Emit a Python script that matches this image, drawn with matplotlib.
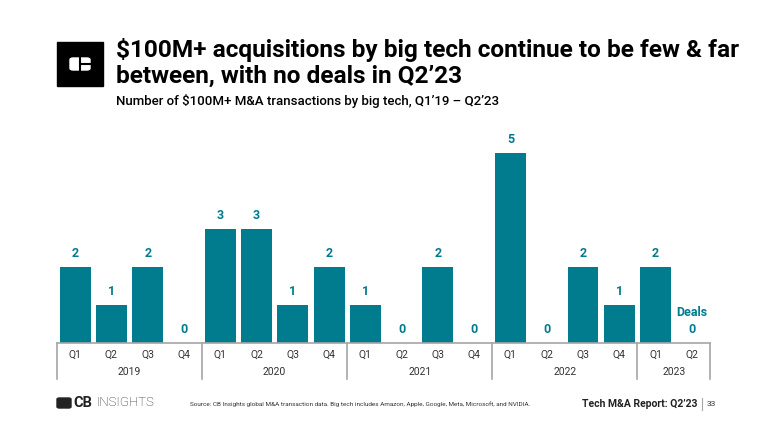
import numpy as np
import matplotlib.pyplot as plt
from matplotlib.patches import Rectangle, FancyBboxPatch
import matplotlib.transforms as mtransforms

plt.rcParams['font.family'] = ['Roboto', 'DejaVu Sans']

# Data
years = ["2019", "2020", "2021", "2022", "2023"]
quarters = ["Q1", "Q2", "Q3", "Q4"] * 4 + ["Q1", "Q2"]
deals = [2, 1, 2, 0, 3, 3, 1, 2, 1, 0, 2, 0, 5, 0, 2, 1, 2, 0]
quarters_per_year = [4, 4, 4, 4, 2]

teal = "#007C8E"
grey = "#A6A6A6"

fig = plt.figure(figsize=(7.7, 4.33), dpi=100)
ax = fig.add_axes([57/770, 90/433, 653/770, 209/433])

x = np.arange(len(deals))
ax.bar(x, deals, width=0.85, color=teal)
ax.set_xlim(-0.5, len(deals) - 0.5)
ax.set_ylim(0, 5.5)
for s in ["top", "right", "left"]:
    ax.spines[s].set_visible(False)
ax.spines["bottom"].set_color(grey)
ax.spines["bottom"].set_linewidth(1.2)
ax.set_yticks([])
ax.set_xticks([])

# value labels
for i, v in enumerate(deals):
    ax.annotate(str(v), (i, v), xytext=(0, 5), textcoords="offset points",
                ha="center", va="bottom", color=teal, fontsize=9, fontweight="bold")
ax.annotate("Deals", (x[-1], deals[-1]), xytext=(0, 17), textcoords="offset points",
            ha="center", va="bottom", color=teal, fontsize=9, fontweight="bold")

# category axis
trans = mtransforms.blended_transform_factory(ax.transData, ax.transAxes)
for i, q in enumerate(quarters):
    ax.text(i, -0.055, q, transform=trans, ha="center", va="center",
            fontsize=7.5, color="#333333")
start = 0
bounds = [-0.5]
for y, n in zip(years, quarters_per_year):
    ax.text(start + (n - 1) / 2, -0.14, y, transform=trans, ha="center", va="center",
            fontsize=7.5, color="#333333")
    start += n
    bounds.append(start - 0.5)
for b in bounds:
    ax.plot([b, b], [0, -0.17], transform=trans, color=grey, lw=1.2, clip_on=False)

# header
fig.patches.append(Rectangle((57/770, 1 - 86/433), 46/770, 44/433,
                             transform=fig.transFigure, color="black"))
fig.patches.append(FancyBboxPatch((70/770, 1 - 70/433), 20/770, 12/433,
                                  boxstyle="round,pad=0,rounding_size=0.004",
                                  transform=fig.transFigure, color="white"))
fig.add_artist(plt.Line2D([80/770, 80/770], [1 - 70/433, 1 - 58/433],
                          transform=fig.transFigure, color="black", lw=1.5))
fig.add_artist(plt.Line2D([80/770, 90/770], [1 - 64/433, 1 - 64/433],
                          transform=fig.transFigure, color="black", lw=1.5))

fig.text(116/770, 1 - 50/433, "$100M+ acquisitions by big tech continue to be few & far",
         fontsize=17.6, fontweight="bold", va="center", ha="left")
fig.text(116/770, 1 - 76/433, "between, with no deals in Q2\u201923",
         fontsize=17.6, fontweight="bold", va="center", ha="left")
fig.text(116/770, 1 - 101/433, "Number of $100M+ M&A transactions by big tech, Q1\u201919 \u2013 Q2\u201923",
         fontsize=9.5, fontweight="medium", va="center", ha="left")

# footer
fig.patches.append(FancyBboxPatch((57/770, 1 - 408/433), 14/770, 10/433,
                                  boxstyle="round,pad=0,rounding_size=0.003",
                                  transform=fig.transFigure, color="#222222"))
fig.text(73/770, 1 - 403/433, "CB", fontsize=10.5, fontweight="bold", va="center", color="#222222")
fig.text(97/770, 1 - 403/433, "INSIGHTS", fontsize=9.5, fontweight="light", va="center",
         color="#222222", stretch="condensed")
fig.text(190/770, 1 - 404/433,
         "Source: CB Insights global M&A transaction data. Big tech includes Amazon, Apple, Google, Meta, Microsoft, and NVIDIA.",
         fontsize=4.6, va="center", color="#333333")
fig.text(697/770, 1 - 404/433, "Tech M&A Report: Q2\u201923", fontsize=7.5, fontweight="bold",
         va="center", ha="right", color="#222222")
fig.add_artist(plt.Line2D([702/770, 702/770], [1 - 410/433, 1 - 398/433],
                          transform=fig.transFigure, color=grey, lw=0.8))
fig.text(707/770, 1 - 404/433, "33", fontsize=6, va="center", ha="left", color="#333333")

fig.savefig("out.png", dpi=100)
